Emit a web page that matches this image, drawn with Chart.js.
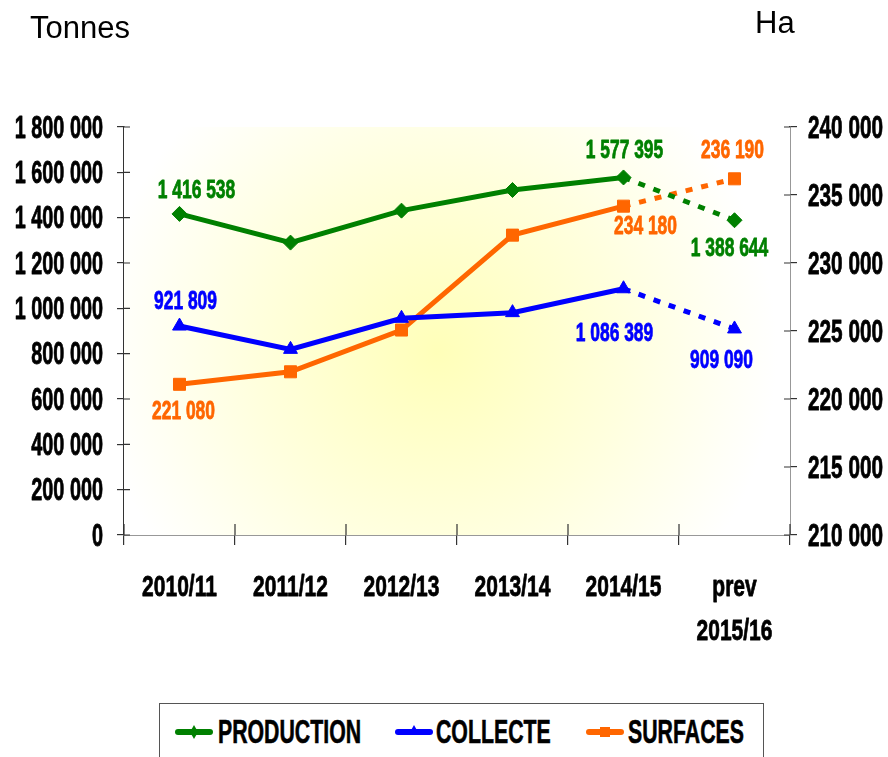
<!DOCTYPE html>
<html>
<head>
<meta charset="utf-8">
<script src="https://cdn.jsdelivr.net/npm/chart.js@4.4.1/dist/chart.umd.min.js"></script>
<style>
    html, body { margin: 0; padding: 0; background: #fff; }
    #wrap { position: relative; width: 888px; height: 757px; overflow: hidden; }
    #chart { position: absolute; left: 0; top: 0; }
    .unit { position: absolute; font-family: "Liberation Sans", Arial, sans-serif; font-size: 31px; line-height: 36px; color: #000; }
    #legend {
        position: absolute; left: 159px; top: 703px; width: 605px; height: 70px;
        border: 1px solid #555; box-sizing: border-box; background: #fff;
        font-family: "Liberation Sans", Arial, sans-serif;
        font-weight: bold; font-size: 33px; color: #000;
    }
    .sym { position: absolute; top: 18px; }
    .sym svg { display: block; }
    .txt { position: absolute; top: 9px; line-height: 38px; white-space: nowrap; transform: scaleX(0.645); transform-origin: 0 0;
           -webkit-text-stroke: 0.6px #000; }
</style>
</head>
<body>
<div id="wrap">
    <canvas id="chart" width="888" height="757"></canvas>
    <div class="unit" style="left:30px; top:10px;">Tonnes</div>
    <div class="unit" style="left:755px; top:5px;">Ha</div>
    <div id="legend"></div>
</div>
<script>
const categories = ['2010/11', '2011/12', '2012/13', '2013/14', '2014/15', ['prev', '2015/16']];
const production = [1416538, 1290000, 1431000, 1522000, 1577395, 1388644];
const collecte = [921809, 819000, 956000, 981000, 1086389, 909090];
const surfaces = [221080, 222000, 225070, 232050, 234180, 236190];
const tonnesTicks = [0, 1800000, 200000];   // min, max, step
const haTicks = [210000, 240000, 5000];

const GREEN = '#008000';
const BLUE = '#0000ff';
const ORANGE = '#ff6600';
const FONT = '"Liberation Sans", Arial, sans-serif';

// which points get a value label, and where it sits relative to the point
const labelSpots = [
    { 0: [17, -23], 4: [1, -27], 5: [-5, 29] },
    { 0: [6, -24], 4: [-9, 45], 5: [-13, 32] },
    { 0: [4, 28], 4: [22, 21], 5: [-2, -28] }
];

function fmt(v) {
    return String(Math.round(v)).replace(/\B(?=(\d{3})+(?!\d))/g, ' ');
}

// the original text is a squeezed heavy face, so draw it narrowed and slightly stroked
function squeezed(ctx, text, x, y, align, sx) {
    ctx.save();
    ctx.translate(x, y);
    ctx.scale(sx, 1);
    ctx.textAlign = align;
    ctx.textBaseline = 'middle';
    ctx.strokeStyle = ctx.fillStyle;
    ctx.lineWidth = 0.8;
    ctx.lineJoin = 'round';
    ctx.fillText(text, 0, 0);
    ctx.strokeText(text, 0, 0);
    ctx.restore();
}

// dashed last segment (forecast)
const dashLast = ctx => ctx.p0DataIndex === categories.length - 2 ? [7, 9] : undefined;

const backgroundGlow = {
    id: 'backgroundGlow',
    beforeDatasetsDraw(chart) {
        const { ctx, chartArea: a } = chart;
        const cx = a.left + (a.right - a.left) * 0.47;
        const cy = a.top + (a.bottom - a.top) * 0.55;
        const g = ctx.createRadialGradient(cx, cy, 0, cx, cy, 340);
        g.addColorStop(0, 'rgb(255,255,185)');
        g.addColorStop(0.55, 'rgb(255,255,222)');
        g.addColorStop(1, 'rgb(255,255,255)');
        ctx.save();
        ctx.fillStyle = g;
        ctx.fillRect(a.left, a.top, a.right - a.left, a.bottom - a.top);
        ctx.restore();
    }
};

// tick marks crossing into the plot area + narrowed tick labels
const axisDecor = {
    id: 'axisDecor',
    afterDraw(chart) {
        const { ctx, chartArea: a, scales } = chart;
        ctx.save();
        ctx.strokeStyle = '#333';
        ctx.lineWidth = 1.2;
        ctx.beginPath();
        scales.y.ticks.forEach((t, i) => {
            const y = scales.y.getPixelForTick(i);
            ctx.moveTo(a.left, y); ctx.lineTo(a.left + 6, y);
        });
        scales.y1.ticks.forEach((t, i) => {
            const y = scales.y1.getPixelForTick(i);
            ctx.moveTo(a.right, y); ctx.lineTo(a.right - 6, y);
        });
        for (let i = 0; i <= categories.length; i++) {
            const x = a.left + (a.right - a.left) * i / categories.length;
            ctx.moveTo(x, a.bottom); ctx.lineTo(x, a.bottom - 11);
        }
        ctx.stroke();

        ctx.fillStyle = '#000';
        ctx.font = 'bold 31px ' + FONT;
        scales.y.ticks.forEach((t, i) => {
            squeezed(ctx, fmt(t.value), a.left - 21, scales.y.getPixelForTick(i) + 2, 'right', 0.64);
        });
        scales.y1.ticks.forEach((t, i) => {
            squeezed(ctx, fmt(t.value), a.right + 18, scales.y1.getPixelForTick(i) + 2, 'left', 0.67);
        });
        ctx.font = 'bold 30px ' + FONT;
        categories.forEach((lab, i) => {
            const lines = Array.isArray(lab) ? lab : [lab];
            const x = scales.x.getPixelForTick(i);
            lines.forEach((ln, j) => squeezed(ctx, ln, x, a.bottom + 53 + j * 44, 'center', 0.7));
        });
        ctx.restore();
    }
};

const valueLabels = {
    id: 'valueLabels',
    afterDatasetsDraw(chart) {
        const ctx = chart.ctx;
        ctx.save();
        ctx.font = 'bold 26px ' + FONT;
        chart.data.datasets.forEach((ds, di) => {
            const meta = chart.getDatasetMeta(di);
            Object.keys(labelSpots[di]).forEach(k => {
                const pt = meta.data[k];
                const off = labelSpots[di][k];
                ctx.fillStyle = ds.borderColor;
                squeezed(ctx, fmt(ds.data[k]), pt.x + off[0], pt.y + off[1], 'center', 0.67);
            });
        });
        ctx.restore();
    }
};

function lineSet(label, data, color, style, radius, axis) {
    return {
        label: label,
        data: data,
        yAxisID: axis,
        borderColor: color,
        backgroundColor: color,
        borderWidth: 5,
        pointStyle: style,
        pointRadius: radius,
        pointHoverRadius: radius,
        pointBorderWidth: 1,
        tension: 0,
        segment: { borderDash: dashLast }
    };
}

new Chart(document.getElementById('chart'), {
    type: 'line',
    data: {
        labels: categories,
        datasets: [
            lineSet('PRODUCTION', production, GREEN, 'rectRot', 7.5, 'y'),
            lineSet('COLLECTE', collecte, BLUE, 'triangle', 8, 'y'),
            lineSet('SURFACES', surfaces, ORANGE, 'rect', 8.5, 'y1')
        ]
    },
    options: {
        responsive: false,
        animation: false,
        layout: { padding: { top: 127, left: 0, right: 0, bottom: 0 } },
        plugins: {
            legend: { display: false },
            tooltip: { enabled: false }
        },
        scales: {
            x: {
                offset: true,
                grid: { offset: true, drawOnChartArea: false, tickLength: 10, color: '#333', lineWidth: 1.2 },
                border: { color: '#333', width: 1.5 },
                ticks: { display: false },
                afterFit: s => { s.height = 757 - 535; }
            },
            y: {
                position: 'left',
                min: tonnesTicks[0], max: tonnesTicks[1],
                ticks: { stepSize: tonnesTicks[2], display: false },
                grid: { drawOnChartArea: false, tickLength: 7, color: '#333', lineWidth: 1.2 },
                border: { color: '#333', width: 1.5 },
                afterFit: s => { s.width = 124; }
            },
            y1: {
                position: 'right',
                min: haTicks[0], max: haTicks[1],
                ticks: { stepSize: haTicks[2], display: false },
                grid: { drawOnChartArea: false, tickLength: 7, color: '#333', lineWidth: 1.2 },
                border: { color: '#333', width: 1.5 },
                afterFit: s => { s.width = 888 - 790; }
            }
        }
    },
    plugins: [backgroundGlow, axisDecor, valueLabels]
});

// legend: line with marker + name (offsets inside the box)
const legendItems = [
    ['PRODUCTION', GREEN, 'diamond', 15, 58],
    ['COLLECTE', BLUE, 'triangle', 235, 276],
    ['SURFACES', ORANGE, 'square', 426, 468]
];
const legendEl = document.getElementById('legend');
legendItems.forEach(([name, color, marker, symLeft, txtLeft]) => {
    let m = '';
    if (marker === 'diamond') m = `<polygon points="19,3 23,10 19,17 15,10" fill="${color}"/>`;
    if (marker === 'triangle') m = `<polygon points="19,3 24,12 14,12" fill="${color}"/>`;
    if (marker === 'square') m = `<rect x="14" y="5" width="10" height="10" fill="${color}"/>`;
    const sym = document.createElement('div');
    sym.className = 'sym';
    sym.style.left = symLeft + 'px';
    sym.innerHTML = `<svg width="38" height="20"><line x1="3" y1="10" x2="35" y2="10" stroke="${color}" stroke-width="6" stroke-linecap="round"/>${m}</svg>`;
    const txt = document.createElement('div');
    txt.className = 'txt';
    txt.style.left = txtLeft + 'px';
    txt.textContent = name;
    legendEl.appendChild(sym);
    legendEl.appendChild(txt);
});
</script>
</body>
</html>
